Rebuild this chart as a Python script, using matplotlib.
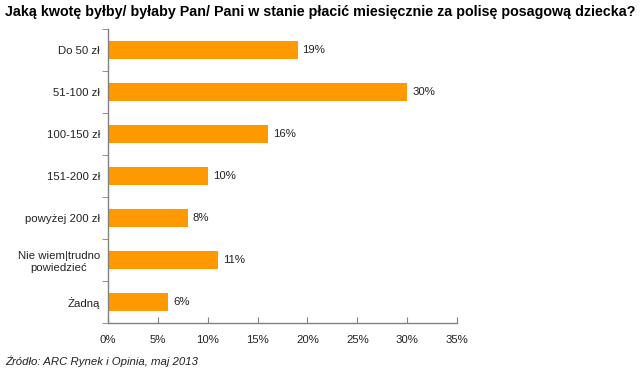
import matplotlib
matplotlib.use("Agg")
import matplotlib.pyplot as plt

plt.rcParams['font.family'] = ['Liberation Sans', 'DejaVu Sans']

categories = ["Do 50 zł", "51-100 zł", "100-150 zł", "151-200 zł",
              "powyżej 200 zł", "Nie wiem|trudno\npowiedzieć", "Żadną"]
values = [19, 30, 16, 10, 8, 11, 6]
xticks = [0, 5, 10, 15, 20, 25, 30, 35]

fig = plt.figure(figsize=(6.4, 3.72), dpi=100)
ax = fig.add_axes([0.169, 0.132, 0.545, 0.79])

pos = list(range(len(categories)))
ax.barh(pos, values, height=0.43, color='#FF9900', edgecolor='none')
for p, v in zip(pos, values):
    ax.text(v + 0.5, p, f"{v}%", va='center', ha='left', fontsize=8.2, color='#222222')

ax.set_xlim(0, 35)
ax.set_ylim(len(categories) - 0.5, -0.5)
ax.set_xticks(xticks)
ax.set_xticklabels([f"{t}%" for t in xticks], fontsize=8.2, color='#222222')
ax.set_yticks(pos)
ax.set_yticklabels(categories, fontsize=8.2, color='#222222', multialignment='center')
ax.set_yticks([p + 0.5 for p in [-1] + pos], minor=True)
ax.tick_params(axis='y', which='major', length=0, pad=6)
ax.tick_params(axis='y', which='minor', length=4, color='#808080', direction='out')
ax.tick_params(axis='x', length=4, color='#808080', direction='in', pad=9)

for s in ['top', 'right']:
    ax.spines[s].set_visible(False)
for s in ['left', 'bottom']:
    ax.spines[s].set_color('#808080')
    ax.spines[s].set_linewidth(1)

fig.text(0.008, 0.967, "Jaką kwotę byłby/ byłaby Pan/ Pani w stanie płacić miesięcznie za polisę posagową dziecka?",
         fontsize=10.25, fontweight='bold', ha='left', va='center')
fig.text(0.008, 0.030, "Źródło: ARC Rynek i Opinia, maj 2013", fontsize=8.2, style='italic',
         ha='left', va='center', color='#222222')

fig.savefig("out.png", dpi=100)
